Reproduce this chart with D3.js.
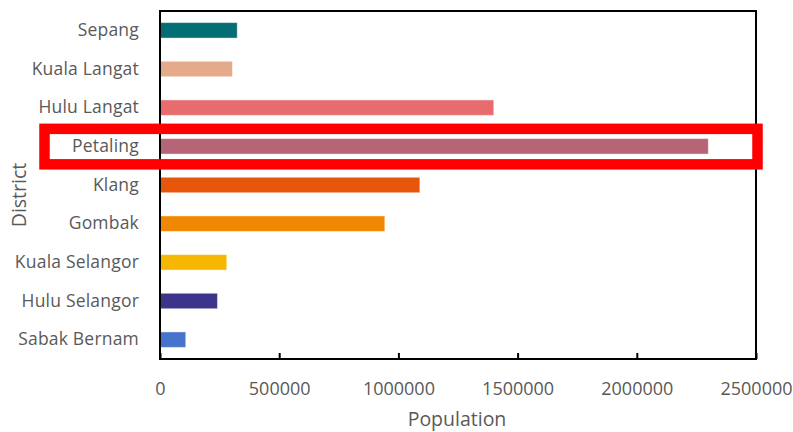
<!DOCTYPE html>
<html>
<head>
<meta charset="utf-8">
<script src="https://cdn.jsdelivr.net/npm/d3@7"></script>
<style>
  html, body { margin: 0; padding: 0; background: #fff; }
  svg { display: block; }
  text { font-family: "Open Sans", "Noto Sans", sans-serif; fill: #595959; }
</style>
</head>
<body>
<svg id="chart" width="793" height="432"></svg>
<script>
// Population by district, Selangor (top to bottom)
const districts = ["Sepang", "Kuala Langat", "Hulu Langat", "Petaling", "Klang",
                   "Gombak", "Kuala Selangor", "Hulu Selangor", "Sabak Bernam"];
const population = [324000, 304000, 1400000, 2300000, 1090000,
                    943000, 280000, 241000, 108000];
const barColors = ["#046C73", "#E5AA8A", "#E76C70", "#B56576", "#E8560B",
                   "#F08700", "#F5B700", "#3D348B", "#4673CB"];
const xTicks = [0, 500000, 1000000, 1500000, 2000000, 2500000];
const highlighted = "Petaling";

const svg = d3.select("#chart");
const margin = { top: 11, right: 37, bottom: 73, left: 160 };
const W = 793, H = 432;
const innerW = W - margin.left - margin.right;
const innerH = H - margin.top - margin.bottom;

const g = svg.append("g").attr("transform", `translate(${margin.left},${margin.top})`);

const x = d3.scaleLinear().domain([0, 2500000]).range([0, innerW]);
const y = d3.scaleBand().domain(districts).range([0, innerH]).paddingInner(0.6).paddingOuter(0.3);

const data = districts.map((d, i) => ({ district: d, value: population[i], color: barColors[i] }));

// bars
g.selectAll("rect.bar").data(data).enter().append("rect")
  .attr("class", "bar")
  .attr("x", x(0))
  .attr("y", d => y(d.district))
  .attr("width", d => x(d.value) - x(0))
  .attr("height", y.bandwidth())
  .attr("fill", d => d.color)
  .attr("stroke", "rgba(255,255,255,0.45)")
  .attr("stroke-width", 1);

// frame around the plot area
g.append("rect")
  .attr("x", 0).attr("y", 0)
  .attr("width", innerW).attr("height", innerH)
  .attr("fill", "none").attr("stroke", "#000").attr("stroke-width", 2);

// x axis: ticks pointing inward, labels below
const xAxis = d3.axisBottom(x).tickValues(xTicks).tickSizeInner(-6).tickSizeOuter(0)
  .tickPadding(23).tickFormat(d3.format("d"));
const gx = g.append("g").attr("transform", `translate(0,${innerH})`).call(xAxis);
gx.select(".domain").remove();
gx.selectAll(".tick line").attr("stroke", "#000").attr("stroke-width", 2);
gx.selectAll(".tick text").style("font-size", "18px").attr("fill", "#595959")
  .style("font-family", "'Open Sans', sans-serif");

// y axis: category labels only
const yAxis = d3.axisLeft(y).tickSize(0).tickPadding(21);
const gy = g.append("g").call(yAxis);
gy.select(".domain").remove();
gy.selectAll(".tick text").style("font-size", "17.5px").style("letter-spacing", "0.2px")
  .attr("fill", "#595959").style("font-family", "'Open Sans', sans-serif");

// axis titles
svg.append("text")
  .attr("x", margin.left + innerW / 2 - 1).attr("y", 426)
  .attr("text-anchor", "middle").style("font-size", "19.5px")
  .text("Population");
svg.append("text")
  .attr("transform", `translate(26,${margin.top + innerH / 2 + 10}) rotate(-90)`)
  .attr("text-anchor", "middle").style("font-size", "19.5px")
  .text("District");

// emphasis box around the highlighted district row
const hy = y(highlighted) + y.bandwidth() / 2;
svg.append("rect")
  .attr("x", 44.5).attr("y", margin.top + hy - 17.5)
  .attr("width", 713).attr("height", 35.5)
  .attr("fill", "none").attr("stroke", "#FF0000").attr("stroke-width", 10.5);
</script>
</body>
</html>
